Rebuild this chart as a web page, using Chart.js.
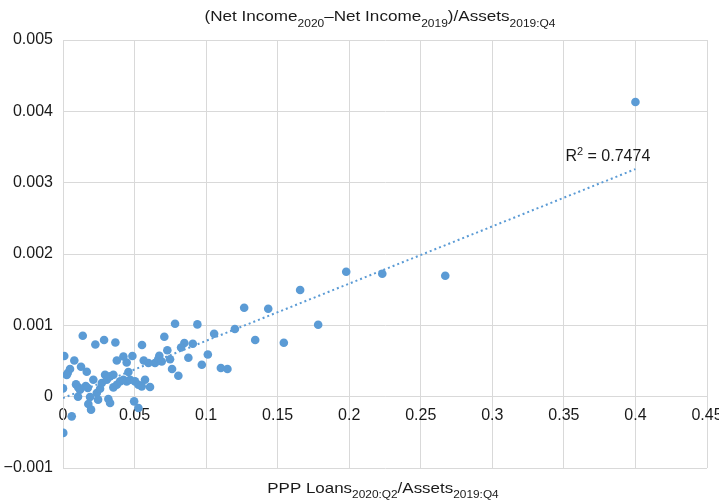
<!DOCTYPE html>
<html>
<head>
<meta charset="utf-8">
<script src="https://cdn.jsdelivr.net/npm/chart.js@4"></script>
<style>
  html, body { margin: 0; padding: 0; background: #fff; }
  #wrap { width: 719px; height: 500px; position: relative; }
</style>
</head>
<body>
<div id="wrap"><canvas id="c" width="719" height="500"></canvas></div>
<script>
// ---- data ----
const xValues = [0.4000,0.2671,0.2231,0.1979,0.1657,0.1783,0.1434,0.1543,0.1343,0.1266,
  0.1201,0.1149,0.1103,0.1056,0.1012,0.0970,0.0939,0.0907,0.0876,0.0848,
  0.0825,0.0783,0.0806,0.0762,0.0708,0.0729,0.0748,0.0673,0.0643,0.0666,
  0.0690,0.0597,0.0564,0.0552,0.0573,0.0608,0.0497,0.0527,0.0485,0.0457,
  0.0445,0.0422,0.0376,0.0366,0.0287,0.0226,0.0138,0.0009,0.0079,0.0049,
  0.0033,0.0026,0.0126,0.0166,0.0000,0.0091,0.0107,0.0119,0.0159,0.0173,
  0.0105,0.0189,0.0177,0.0196,0.0212,0.0236,0.0245,0.0259,0.0271,0.0294,
  0.0306,0.0329,0.0352,0.0317,0.0329,0.0352,0.0376,0.0399,0.0422,0.0445,
  0.0469,0.0503,0.0527,0.0550,0.0061,0.0002];
const yValues = [0.00413,0.001695,0.001723,0.001751,0.001495,0.001008,0.001232,0.000756,0.000794,0.001246,
  0.000948,0.000388,0.000402,0.000882,0.000592,0.000448,0.001013,0.000742,0.000546,0.000752,
  0.000690,0.001022,0.000294,0.000388,0.000840,0.000651,0.000525,0.000574,0.000472,0.000528,
  0.000494,0.000472,0.000508,0.000724,0.000238,0.000136,-0.000066,-0.000158,0.000570,0.000346,
  0.000480,0.000564,0.000508,0.000760,0.000794,0.000732,0.000854,0.000570,0.000508,0.000388,
  0.000332,0.000304,0.000420,0.000350,0.000116,0.000172,0.000130,0.000098,0.000150,0.000122,
  0.000000,-0.000004,-0.000102,-0.000182,0.000238,0.000052,-0.000042,0.000112,0.000192,0.000308,
  0.000238,0.000284,0.000308,-0.000032,-0.000088,0.000130,0.000168,0.000214,0.000238,0.000214,
  0.000238,0.000214,0.000168,0.000144,-0.000276,-0.000508];
const trendX = [0, 0.4];
const trendY = [-0.00002, 0.00319];
const rSquaredLabel = ['R', '2', ' = 0.7474'];
const xTickLabels = ['0','0.05','0.1','0.15','0.2','0.25','0.3','0.35','0.4','0.45'];
const yTickLabels = ['\u22120.001','0','0.001','0.002','0.003','0.004','0.005'];
const titleParts = [['(Net Income',0],['2020',1],['\u2013Net Income',0],['2019',1],[')/Assets',0],['2019:Q4',1]];
const xTitleParts = [['PPP Loans',0],['2020:Q2',1],['/Assets',0],['2019:Q4',1]];

// ---- build ----
const points = xValues.map((x, i) => ({x: x, y: yValues[i]}));
const trend = trendX.map((x, i) => ({x: x, y: trendY[i]}));
const BLUE = '#5B9BD5';
const FONT = '"Liberation Sans", Arial, Helvetica, sans-serif';
const GRID = '#d9d9d9';
const TEXT = '#1a1a1a';

function drawRich(ctx, parts, cx, baseline, mainSize, subSize, subShift, hscale) {
  let w = 0;
  parts.forEach(p => {
    ctx.font = (p[1] ? subSize : mainSize) + 'px ' + FONT;
    w += ctx.measureText(p[0]).width;
  });
  ctx.save();
  ctx.translate(cx, 0);
  ctx.scale(hscale, 1);
  let x = -w / 2;
  ctx.textAlign = 'left';
  ctx.textBaseline = 'alphabetic';
  parts.forEach(p => {
    ctx.font = (p[1] ? subSize : mainSize) + 'px ' + FONT;
    ctx.fillText(p[0], x, baseline + (p[1] ? subShift : 0));
    x += ctx.measureText(p[0]).width;
  });
  ctx.restore();
}

const textPlugin = {
  id: 'texts',
  afterDraw(chart) {
    const ctx = chart.ctx;
    const xs = chart.scales.x, ys = chart.scales.y;
    ctx.save();
    ctx.fillStyle = TEXT;
    drawRich(ctx, titleParts, 380, 21, 15, 10.5, 6, 1.14);
    drawRich(ctx, xTitleParts, 383, 493, 15, 10.5, 5, 1.13);
    // R^2 label near the end of trendline
    const px = xs.getPixelForValue(trendX[1]);
    const py = ys.getPixelForValue(trendY[1]);
    let lx = px - 70;
    const ly = py - 8;
    ctx.textAlign = 'left';
    ctx.textBaseline = 'alphabetic';
    ctx.font = '16px ' + FONT;
    ctx.fillText(rSquaredLabel[0], lx, ly); lx += ctx.measureText(rSquaredLabel[0]).width;
    ctx.font = '11px ' + FONT;
    ctx.fillText(rSquaredLabel[1], lx, ly - 6); lx += ctx.measureText(rSquaredLabel[1]).width;
    ctx.font = '16px ' + FONT;
    ctx.fillText(rSquaredLabel[2], lx, ly);
    ctx.restore();
  }
};

new Chart(document.getElementById('c'), {
  type: 'scatter',
  data: {
    datasets: [
      {
        label: 'data',
        data: points,
        backgroundColor: BLUE,
        borderColor: BLUE,
        pointRadius: 4.3,
        pointBorderWidth: 0,
        order: 1
      },
      {
        type: 'line',
        label: 'trend',
        data: trend,
        borderColor: BLUE,
        borderWidth: 2,
        borderDash: [2, 3],
        pointRadius: 0,
        fill: false,
        order: 2
      }
    ]
  },
  options: {
    responsive: false,
    animation: false,
    events: [],
    layout: { padding: { top: 40, bottom: 32, right: 12, left: 0 } },
    plugins: { legend: { display: false }, tooltip: { enabled: false }, title: { display: false } },
    scales: {
      x: {
        type: 'linear',
        position: { y: 0 },
        min: 0, max: 0.45,
        ticks: {
          stepSize: 0.05,
          color: TEXT,
          font: { family: FONT, size: 16 },
          padding: 9,
          maxRotation: 0,
          autoSkip: false,
          callback: (v, i) => xTickLabels[i]
        },
        grid: { color: GRID, lineWidth: 1, drawTicks: false },
        border: { color: GRID },
        afterFit: (s) => { s.paddingLeft = 0; s.paddingRight = 0; }
      },
      y: {
        type: 'linear',
        min: -0.001, max: 0.005,
        ticks: {
          stepSize: 0.001,
          color: TEXT,
          font: { family: FONT, size: 16 },
          padding: 10,
          autoSkip: false,
          callback: (v, i) => yTickLabels[i]
        },
        grid: { color: GRID, lineWidth: 1, drawTicks: false },
        border: { color: GRID },
        afterFit: (s) => { s.width = 63; s.paddingTop = 0; s.paddingBottom = 0; }
      }
    }
  },
  plugins: [textPlugin]
});
</script>
</body>
</html>
